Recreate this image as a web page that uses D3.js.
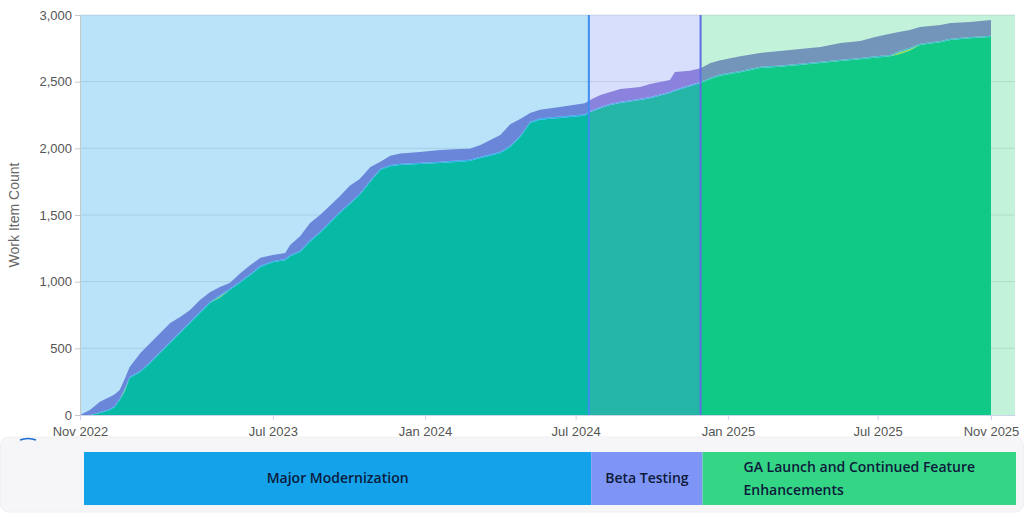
<!DOCTYPE html>
<html>
<head>
<meta charset="utf-8">
<script src="https://cdn.jsdelivr.net/npm/d3@7"></script>
<style>
  body { margin: 0; background: #fff; }
  svg { display: block; }
</style>
</head>
<body>
<div id="burnup"></div>
<script>

// dates of the cumulative samples
var dates = ["2022-11-10","2022-11-22","2022-12-04","2022-12-16","2022-12-22","2022-12-28","2023-01-03","2023-01-09",
  "2023-01-22","2023-02-03","2023-02-15","2023-02-27","2023-03-11","2023-03-23","2023-04-04","2023-04-16",
  "2023-04-28","2023-05-10","2023-05-22","2023-06-04","2023-06-16","2023-07-01","2023-07-16","2023-07-22",
  "2023-08-03","2023-08-15","2023-08-27","2023-09-08","2023-09-20","2023-10-02","2023-10-14","2023-10-27",
  "2023-11-08","2023-11-20","2023-12-02","2023-12-26","2024-01-19","2024-02-12","2024-02-24","2024-03-08",
  "2024-03-20","2024-04-01","2024-04-13","2024-04-25","2024-05-07","2024-05-19","2024-06-12","2024-07-12",
  "2024-07-19","2024-07-31","2024-08-12","2024-08-24","2024-09-17","2024-09-29","2024-10-23","2024-10-29",
  "2024-11-16","2024-11-29","2024-12-11","2024-12-23","2025-01-16","2025-02-09","2025-03-05","2025-03-29",
  "2025-04-23","2025-05-17","2025-06-10","2025-06-28","2025-07-16","2025-07-28","2025-08-09","2025-08-21",
  "2025-09-15","2025-09-27","2025-10-21","2025-11-15"];

// work items per state (stacked, bottom to top)
var doneCounts = [0,0,15,37,60,112,177,277,322,390,465,540,615,690,765,840,
  880,937,990,1050,1110,1145,1160,1190,1222,1300,1365,1440,1515,1580,1650,1750,
  1837,1865,1875,1882,1890,1900,1905,1927,1945,1965,2010,2085,2190,2215,2228,2245,
  2272,2300,2325,2340,2362,2375,2415,2430,2465,2490,2520,2545,2570,2602,2612,2625,
  2640,2655,2668,2680,2690,2707,2733,2775,2795,2812,2825,2835];

var reviewCounts = [0,0,0,0,0,0,10,0,0,0,0,0,0,0,0,0,
  10,0,0,0,0,0,0,0,0,0,0,0,0,0,0,0,
  0,0,0,0,0,0,0,0,0,0,0,0,0,0,0,0,
  0,0,0,0,0,0,0,0,0,0,0,0,0,0,0,0,
  0,0,0,0,0,15,12,0,0,0,0,0];

var resolvedCounts = [0,0,5,8,8,10,10,10,10,10,10,10,10,10,10,10,
  10,10,10,10,10,10,10,10,10,10,10,10,10,10,10,10,
  10,10,10,10,10,10,10,10,10,10,10,10,10,10,10,10,
  10,10,10,10,10,10,10,10,10,10,10,10,10,10,10,10,
  10,10,10,10,10,10,10,10,10,10,10,10];

var activeCounts = [0,37,80,90,87,65,73,73,133,140,140,140,110,87,87,70,
  60,43,60,65,60,45,45,75,108,130,125,120,115,130,110,100,
  53,70,77,80,87,85,82,88,107,125,160,125,65,65,72,83,
  83,90,87,95,88,97,87,132,107,100,110,105,110,103,108,110,
  110,125,127,145,160,143,132,125,120,118,112,117];

var stateKeys = ["done", "review", "resolved", "active"];
var stateColors = ["#00c587", "#b9dc4c", "#3bb8f0", "#907ad2"];

// project phases
var phaseNames = ["Major Modernization", "Beta Testing", "GA Launch and Continued Feature Enhancements"];
var phaseStarts = ["2022-11-10", "2024-07-17", "2024-11-29"];
var phaseEnds = ["2024-07-17", "2024-11-29", "2025-12-14"];
var phaseColors = ["#14a3ea", "#7f95f5", "#34d585"];
var phaseLineColors = ["#3d8ef2", "#5f6fe6"];

// axis ticks
var tickDates = ["2022-11-10","2023-07-01","2024-01-01","2024-07-01","2025-01-01","2025-07-01","2025-11-15"];
var yTicks = [0, 500, 1000, 1500, 2000, 2500, 3000];


var parse = d3.utcParse("%Y-%m-%d");

var data = dates.map(function (d, i) {
    return {date: parse(d), done: doneCounts[i], review: reviewCounts[i],
            resolved: resolvedCounts[i], active: activeCounts[i]};
});

var W = 1024, H = 513;
var margin = {top: 15, right: 9, bottom: 98, left: 80},
    width = W - margin.left - margin.right,
    height = H - margin.top - margin.bottom;

var svg = d3.select("#burnup").append("svg")
    .attr("width", W)
    .attr("height", H);

svg.append("rect").attr("width", W).attr("height", H).attr("fill", "#fff");

// grey strip under the chart
svg.append("rect")
    .attr("x", 0.5).attr("y", 437)
    .attr("width", W - 1).attr("height", H - 438)
    .attr("rx", 8)
    .attr("fill", "#f6f6f8")
    .attr("stroke", "#f0f0f2");

svg.append("path")
    .attr("d", "M20,440 A 22 22 0 0 1 36,440")
    .attr("fill", "none")
    .attr("stroke", "#1a6fd0")
    .attr("stroke-width", 1.5);

var g = svg.append("g")
    .attr("transform", "translate(" + margin.left + "," + margin.top + ")");

var x = d3.scaleUtc()
    .domain([parse(phaseStarts[0]), parse(phaseEnds[2])])
    .range([0, width]);

var y = d3.scaleLinear()
    .domain([0, 3000])
    .range([height, 0]);

// gridlines
g.selectAll(".grid")
    .data(yTicks.slice(1))
    .enter().append("line")
    .attr("x1", 0).attr("x2", width)
    .attr("y1", function (d) { return y(d); })
    .attr("y2", function (d) { return y(d); })
    .attr("stroke", "#e2e2e2");

// stacked areas
var series = d3.stack().keys(stateKeys)(data);

var area = d3.area()
    .x(function (d) { return x(d.data.date); })
    .y0(function (d) { return y(d[0]); })
    .y1(function (d) { return y(d[1]); });

g.selectAll(".layer")
    .data(series)
    .enter().append("path")
    .attr("class", "layer")
    .attr("d", area)
    .attr("fill", function (d, i) { return stateColors[i]; });

// phase bands laid over the areas
g.selectAll(".phase")
    .data(phaseNames)
    .enter().append("rect")
    .attr("class", "phase")
    .attr("x", function (d, i) { return x(parse(phaseStarts[i])); })
    .attr("width", function (d, i) { return x(parse(phaseEnds[i])) - x(parse(phaseStarts[i])); })
    .attr("y", 0)
    .attr("height", height)
    .attr("fill", function (d, i) { return phaseColors[i]; })
    .attr("opacity", 0.3);

// phase boundaries
g.selectAll(".boundary")
    .data(phaseLineColors)
    .enter().append("line")
    .attr("x1", function (d, i) { return x(parse(phaseStarts[i + 1])); })
    .attr("x2", function (d, i) { return x(parse(phaseStarts[i + 1])); })
    .attr("y1", 0).attr("y2", height)
    .attr("stroke", function (d) { return d; })
    .attr("stroke-width", 2);

// Add the X Axis
var xAxis = d3.axisBottom(x)
    .tickValues(tickDates.map(parse))
    .tickFormat(d3.utcFormat("%b %Y"))
    .tickSize(5)
    .tickSizeOuter(0);

var gx = g.append("g")
    .attr("transform", "translate(0," + height + ")")
    .call(xAxis);
gx.select(".domain").attr("stroke", "#ccd6eb");
gx.selectAll(".tick line").attr("stroke", "#ccd6eb");
gx.selectAll("text")
    .attr("y", 21).attr("dy", 0)
    .style("font-family", "Helvetica, Arial, 'Liberation Sans', sans-serif")
    .style("font-size", "13px")
    .style("fill", "#555");

// Add the Y Axis
var yAxis = d3.axisLeft(y)
    .tickValues(yTicks)
    .tickFormat(d3.format(","))
    .tickSize(5)
    .tickSizeOuter(0);

var gy = g.append("g").call(yAxis);
gy.select(".domain").attr("stroke", "#c8c8c8");
gy.selectAll(".tick line").attr("stroke", "#c8c8c8");
gy.selectAll("text")
    .attr("x", -8)
    .style("font-family", "Helvetica, Arial, 'Liberation Sans', sans-serif")
    .style("font-size", "13px")
    .style("fill", "#555");

// y title
svg.append("text")
    .attr("transform", "translate(19," + (margin.top + height / 2) + ") rotate(-90)")
    .attr("text-anchor", "middle")
    .style("font-family", "Helvetica, Arial, 'Liberation Sans', sans-serif")
    .style("font-size", "14px")
    .style("fill", "#666")
    .text("Work Item Count");

// timeline bar under the chart
var xt = d3.scaleUtc()
    .domain(x.domain())
    .range([84, 1016]);

var barTop = 452, barH = 53;

var seg = svg.selectAll(".seg")
    .data(phaseNames)
    .enter().append("g")
    .attr("class", "seg");

seg.append("rect")
    .attr("x", function (d, i) { return xt(parse(phaseStarts[i])); })
    .attr("y", barTop)
    .attr("width", function (d, i) { return xt(parse(phaseEnds[i])) - xt(parse(phaseStarts[i])); })
    .attr("height", barH)
    .attr("fill", function (d, i) { return phaseColors[i]; });

seg.each(function (name, i) {
    var x0 = xt(parse(phaseStarts[i])), x1 = xt(parse(phaseEnds[i]));
    var maxW = x1 - x0 - 16;
    var t = d3.select(this).append("text")
        .style("font-family", "'Open Sans', 'Noto Sans', sans-serif")
        .style("font-weight", 600)
        .style("font-size", "14px")
        .style("fill", "#0c1a3b");

    // wrap words into lines
    var words = name.split(" "), lines = [], line = [];
    var probe = t.append("tspan");
    words.forEach(function (w) {
        line.push(w);
        probe.text(line.join(" "));
        if (probe.node().getComputedTextLength() > maxW && line.length > 1) {
            line.pop();
            lines.push(line.join(" "));
            line = [w];
        }
    });
    lines.push(line.join(" "));
    probe.remove();

    var lh = 23;
    var widths = lines.map(function (l) {
        var s = t.append("tspan").text(l);
        var w = s.node().getComputedTextLength();
        s.remove();
        return w;
    });
    var left = (x0 + x1) / 2 - d3.max(widths) / 2;
    var cy = barTop + barH / 2 - (lines.length - 1) * lh / 2;

    lines.forEach(function (l, k) {
        t.append("tspan")
            .attr("x", left)
            .attr("y", cy + k * lh)
            .attr("dy", "0.35em")
            .text(l);
    });
});

</script>
</body>
</html>
